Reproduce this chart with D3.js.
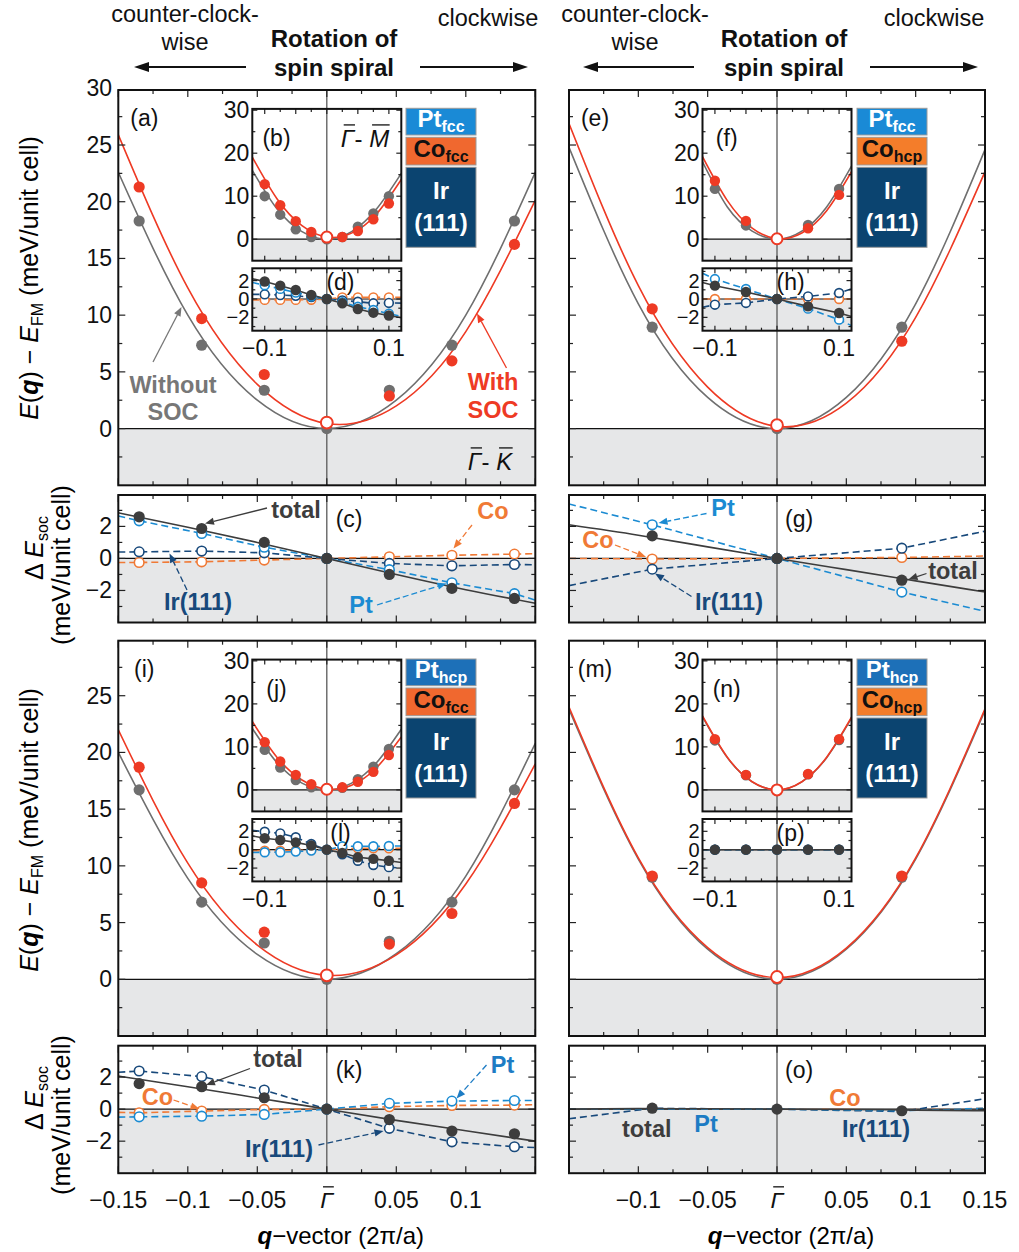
<!DOCTYPE html>
<html>
<head>
<meta charset="utf-8">
<script src="https://cdn.jsdelivr.net/npm/d3@7"></script>
<style>
  body { margin: 0; background: #fff; }
  svg { display: block; }
</style>
</head>
<body>
<script>
// q grids (2pi/a)
const qMain = [-0.135, -0.09, -0.045, 0, 0.045, 0.09, 0.135];
const qSparse = [-0.09, 0, 0.09];
const qFit = [-0.15, -0.1, -0.05, 0, 0.05, 0.1, 0.15];
const qInFine = [-0.1, -0.075, -0.05, -0.025, 0, 0.025, 0.05, 0.075, 0.1];
const qInSparse = [-0.1, -0.05, 0, 0.05, 0.1];
const qInFit = [-0.12, -0.08, -0.04, 0, 0.04, 0.08, 0.12];

// tick labels
const eLabelsTop = [0, 5, 10, 15, 20, 25, 30];
const eLabelsLow = [0, 5, 10, 15, 20, 25];
const dLabels = [-2, 0, 2];
const insetELabels = [0, 10, 20, 30];
const insetDLabels = [-2, 0, 2];
const insetQLabels = [-0.1, 0.1];
const qLabelsLeft = [-0.15, -0.1, -0.05, 0, 0.05, 0.1];
const qLabelsRight = [-0.1, -0.05, 0, 0.05, 0.1, 0.15];

// (a) Pt_fcc / Co_fcc, G-K
const aNoSoc = [18.3, 7.35, 3.38, 0, 3.38, 7.35, 18.3];
const aSoc = [21.3, 9.7, 4.77, 0.53, 2.88, 5.97, 16.24];
const aFitNoSoc = [22.6, 10.0, 2.5, 0, 2.5, 10.0, 22.6];
const aFitSoc = [25.9, 12.4, 3.9, 0.45, 2.0, 8.55, 20.15];
// (b) G-M inset
const bNoSoc = [10, 5.7, 2.3, 0.5, 0, 0.5, 2.9, 6.0, 10];
const bSoc = [12.8, 7.9, 4.2, 1.7, 0.5, 0.5, 1.9, 4.65, 8.3];
const bFitNoSoc = [16.0, 7.0, 1.76, 0, 1.76, 7.0, 15.3];
const bFitSoc = [19.1, 9.35, 3.15, 0.5, 1.41, 5.87, 13.9];
// (c) dE_soc
const cTotal = [2.6, 1.87, 1.0, 0, -1.0, -1.87, -2.5];
const cPt = [2.35, 1.56, 0.7, 0, -0.7, -1.52, -2.2];
const cCo = [-0.25, -0.21, -0.1, 0, 0.1, 0.2, 0.27];
const cIr = [0.41, 0.46, 0.35, 0, -0.31, -0.46, -0.38];
const cPtEnds = [2.65, -2.6], cCoEnds = [-0.25, 0.3], cIrEnds = [0.4, -0.4];
const cTotalFit = [2.85, 1.95, 1.0, 0, -1.0, -1.95, -2.8];
// (d)
const dTotal = [1.9, 1.45, 0.98, 0.43, 0, -0.47, -1.09, -1.49, -1.8];
const dPt = [1.5, 1.1, 0.7, 0.3, 0, -0.35, -0.85, -1.2, -1.6];
const dCo = [-0.1, -0.1, -0.1, -0.08, 0, 0.18, 0.18, 0.18, 0.18];
const dIr = [0.5, 0.43, 0.35, 0.2, 0, -0.15, -0.3, -0.47, -0.43];
const dTotalEnds = [2.2, -2.05], dPtEnds = [1.8, -1.9], dCoEnds = [-0.1, 0.18], dIrEnds = [0.5, -0.45];

// (e) Pt_fcc / Co_hcp
const eNoSoc = [8.94, 0, 8.94];
const eSoc = [10.56, 0.3, 7.7];
const eFitNoSoc = [24.8, 11.0, 2.75, 0, 2.75, 11.0, 24.6];
const eFitSoc = [26.9, 12.6, 3.66, 0.2, 2.24, 9.8, 22.65];
// (f)
const fNoSoc = [11.7, 3.2, 0, 3.3, 11.7];
const fSoc = [13.6, 4.25, 0.1, 2.55, 10.3];
const fFitNoSoc = [18.0, 7.5, 1.87, 0, 1.87, 7.5, 17.0];
const fFitSoc = [19.2, 8.98, 2.6, 0.1, 1.45, 6.64, 15.7];
// (g)
const gTotal = [1.41, 0, -1.36];
const gPt = [2.1, 0, -2.1];
const gCo = [-0.04, 0, 0.06];
const gIr = [-0.67, 0, 0.64];
const gPtEnds = [3.4, -3.3], gCoEnds = [0, 0.15], gIrEnds = [-1.7, 1.7];
const gTotalFit = [2.1, 1.45, 0.72, 0, -0.7, -1.4, -2.1];
// (h)
const hTotal = [1.45, 0.76, 0, -0.8, -1.52];
const hPt = [2.17, 1.09, 0, -1.05, -2.25];
const hCo = [0, 0, 0, 0, 0];
const hIr = [-0.62, -0.43, 0, 0.28, 0.65];
const hTotalEnds = [1.8, -1.9], hPtEnds = [2.8, -2.9], hCoEnds = [0, 0], hIrEnds = [-0.9, 1.1];

// (i) Pt_hcp / Co_fcc
const iNoSoc = [16.7, 6.8, 3.2, 0, 3.35, 6.8, 16.7];
const iSoc = [18.7, 8.5, 4.15, 0.35, 3.1, 5.8, 15.5];
const iFitNoSoc = [20.0, 8.9, 2.2, 0, 2.25, 9.1, 20.8];
const iFitSoc = [22.0, 10.24, 3.02, 0.35, 2.15, 8.4, 19.0];
// (j)
const jNoSoc = [9.3, 5.2, 2.3, 0.6, 0, 0.5, 2.5, 5.4, 9.5];
const jSoc = [11.1, 6.6, 3.5, 1.32, 0.15, 0.6, 1.9, 4.2, 8.1];
const jFitNoSoc = [14.3, 6.3, 1.58, 0, 1.58, 6.3, 14.1];
const jFitSoc = [15.9, 7.55, 2.3, 0.15, 1.1, 5.15, 12.3];
// (k)
const kTotal = [1.59, 1.4, 0.71, 0, -0.65, -1.37, -1.54];
const kPt = [-0.48, -0.44, -0.33, 0, 0.36, 0.5, 0.54];
const kCo = [-0.23, -0.12, -0.02, 0, 0.15, 0.23, 0.25];
const kIr = [2.38, 2.03, 1.19, 0, -1.2, -2.04, -2.35];
const kPtEnds = [-0.5, 0.54], kCoEnds = [-0.2, 0.28], kIrEnds = [2.3, -2.4];
const kTotalFit = [2.06, 1.4, 0.7, 0, -0.7, -1.35, -2.0];
// (l)
const lTotal = [1.24, 1.05, 0.8, 0.45, 0, -0.36, -0.83, -1.0, -1.2];
const lPt = [-0.28, -0.28, -0.2, -0.1, 0, 0.37, 0.37, 0.37, 0.4];
const lCo = [-0.1, -0.1, -0.08, -0.05, 0, 0.1, 0.15, 0.15, 0.15];
const lIr = [1.95, 1.78, 1.35, 0.62, 0, -0.5, -1.2, -1.66, -1.9];
const lTotalEnds = [1.5, -1.4], lPtEnds = [-0.3, 0.4], lCoEnds = [-0.1, 0.15], lIrEnds = [2.1, -2.0];

// (m) Pt_hcp / Co_hcp
const mNoSoc = [9.0, 0, 9.0];
const mSoc = [9.1, 0.2, 9.1];
const mFitNoSoc = [23.8, 10.6, 2.65, 0, 2.65, 10.6, 23.7];
const mFitSoc = [24.0, 10.7, 2.8, 0.15, 2.75, 10.7, 23.85];
// (n)
const nNoSoc = [11.5, 3.4, 0, 3.6, 11.6];
const nSoc = [11.8, 3.5, 0, 3.7, 11.8];
const nFitNoSoc = [17.0, 7.5, 1.88, 0, 1.88, 7.5, 16.7];
const nFitSoc = [17.2, 7.6, 1.9, 0, 1.9, 7.6, 16.9];
// (o)
const oTotal = [0.06, 0, -0.1];
const oPt = [0, 0, -0.1];
const oCo = [0, 0, -0.05];
const oIr = [0.05, 0, -0.15];
const oPtEnds = [0, 0.05], oCoEnds = [0, 0.05], oIrEnds = [-0.6, 0.65];
const oTotalFit = [0.0, 0.03, 0.02, 0, -0.02, -0.06, -0.1];
// (p)
const pTotal = [0, 0, 0, 0, 0];
const pPt = [0, 0, 0, 0, 0];
const pCo = [0, 0, 0, 0, 0];
const pIr = [0, 0, 0, 0, 0];
const pZeroEnds = [0, 0];

const C = {
  gray: '#6f6f6f', red: '#ee3a24', total: '#3d3d3d',
  pt: '#1b8bd2', co: '#f07a36', ir: '#18497b', shade: '#e6e7e8', axis: '#5a5a5a'
};
const FONT = '"Liberation Sans", Arial, sans-serif';
const fmt = d3.format('');
const TICK = 23, ANN = 23.5;

const svg = d3.select('body').append('svg')
  .attr('width', 1019).attr('height', 1252)
  .style('font-family', FONT);
const defs = svg.append('defs');
let clipCount = 0;

function clipFor(x, y) {
  const id = 'clip' + (clipCount++);
  defs.append('clipPath').attr('id', id).append('rect')
    .attr('x', x.range()[0]).attr('y', y.range()[1])
    .attr('width', x.range()[1] - x.range()[0])
    .attr('height', y.range()[0] - y.range()[1]);
  return `url(#${id})`;
}

const zip = (qs, vs) => qs.map((q, i) => [q, vs[i]]);
const lineGen = (x, y, curve) => d3.line().x(d => x(d[0])).y(d => y(d[1])).curve(curve);

const offs = [0, 550.7];
const cols = [
  {x: [118.3, 535.3], ix: [252.3, 401.3], lx: 406},
  {x: [569, 985], ix: [702.5, 851.5], lx: 857}
];
function geom(ci, ri) {
  const o = offs[ri], c = cols[ci];
  return {
    x: d3.scaleLinear().domain([-0.15, 0.15]).range(c.x),
    yE: d3.scaleLinear().domain([-5, 29.85]).range([485.3 + o, 90 + o]),
    yD: d3.scaleLinear().domain([-4, 3.96]).range([622.5 + o, 495 + o]),
    xi: d3.scaleLinear().domain([-0.12, 0.12]).range(c.ix),
    yEi: d3.scaleLinear().domain([-5, 30.3]).range([260.7 + o, 108.9 + o]),
    yDi: d3.scaleLinear().domain([-3.45, 3.34]).range([330.7 + o, 268.3 + o]),
    lx: c.lx, ly: 108.3 + o, o
  };
}

// background, shading below zero, zero line and centre line
function base(g, x, y) {
  const [x0, x1] = x.range(), [yb, yt] = y.range();
  g.append('rect').attr('x', x0).attr('y', yt).attr('width', x1 - x0).attr('height', yb - yt).attr('fill', '#fff');
  g.append('rect').attr('x', x0).attr('y', y(0)).attr('width', x1 - x0).attr('height', yb - y(0)).attr('fill', C.shade);
  g.append('line').attr('x1', x0).attr('x2', x1).attr('y1', y(0)).attr('y2', y(0)).attr('stroke', '#111').attr('stroke-width', 1.2);
  g.append('line').attr('x1', x(0)).attr('x2', x(0)).attr('y1', yt).attr('y2', yb).attr('stroke', C.axis).attr('stroke-width', 1.3);
}

function frame(g, x, y, xStep, yStep, xMaj, yMaj, lMaj, lMin) {
  const [x0, x1] = x.range(), [yb, yt] = y.range();
  const t = g.append('g').attr('stroke', '#222').attr('stroke-width', 1.2);
  const [qa, qb] = x.domain();
  for (let i = Math.ceil(qa / xStep - 1e-6); i <= Math.floor(qb / xStep + 1e-6); i++) {
    const len = (i % xMaj === 0) ? lMaj : lMin, px = x(i * xStep);
    t.append('line').attr('x1', px).attr('x2', px).attr('y1', yb).attr('y2', yb - len);
    t.append('line').attr('x1', px).attr('x2', px).attr('y1', yt).attr('y2', yt + len);
  }
  const [va, vb] = y.domain();
  for (let i = Math.ceil(va / yStep + 1e-6); i <= Math.floor(vb / yStep - 1e-6); i++) {
    const len = (i % yMaj === 0) ? lMaj : lMin, py = y(i * yStep);
    t.append('line').attr('x1', x0).attr('x2', x0 + len).attr('y1', py).attr('y2', py);
    t.append('line').attr('x1', x1).attr('x2', x1 - len).attr('y1', py).attr('y2', py);
  }
  g.append('rect').attr('x', x0).attr('y', yt).attr('width', x1 - x0).attr('height', yb - yt)
    .attr('fill', 'none').attr('stroke', '#111').attr('stroke-width', 2);
}

function drawE(g, x, y, s, r) {
  const inner = g.append('g').attr('clip-path', clipFor(x, y));
  base(inner, x, y);
  inner.append('path').datum(zip(s.qFit, s.fitNoSoc)).attr('d', lineGen(x, y, d3.curveNatural))
    .attr('fill', 'none').attr('stroke', C.gray).attr('stroke-width', 1.6);
  inner.append('path').datum(zip(s.qFit, s.fitSoc)).attr('d', lineGen(x, y, d3.curveNatural))
    .attr('fill', 'none').attr('stroke', C.red).attr('stroke-width', 1.6);
  inner.selectAll('.gm').data(zip(s.q, s.noSoc)).join('circle')
    .attr('cx', d => x(d[0])).attr('cy', d => y(d[1])).attr('r', r).attr('fill', C.gray);
  inner.selectAll('.rm').data(zip(s.q, s.soc)).join('circle')
    .attr('cx', d => x(d[0])).attr('cy', d => y(d[1]))
    .attr('r', d => d[0] === 0 ? r + 0.3 : r)
    .attr('fill', d => d[0] === 0 ? '#fff' : C.red)
    .attr('stroke', C.red).attr('stroke-width', d => d[0] === 0 ? 2 : 0);
}

function drawD(g, x, y, s, r) {
  const inner = g.append('g').attr('clip-path', clipFor(x, y));
  base(inner, x, y);
  const [qa, qb] = x.domain();
  const comps = [
    {v: s.co, ends: s.coEnds, c: C.co},
    {v: s.ir, ends: s.irEnds, c: C.ir},
    {v: s.pt, ends: s.ptEnds, c: C.pt}
  ];
  const lin = lineGen(x, y, d3.curveLinear);
  comps.forEach(cp => {
    inner.append('path').datum([[qa, cp.ends[0]], ...zip(s.q, cp.v), [qb, cp.ends[1]]])
      .attr('d', lin).attr('fill', 'none').attr('stroke', cp.c)
      .attr('stroke-width', 1.6).attr('stroke-dasharray', '7,4');
  });
  const totalPts = s.totalFit ? zip(s.qFit, s.totalFit)
    : [[qa, s.totalEnds[0]], ...zip(s.q, s.total), [qb, s.totalEnds[1]]];
  inner.append('path').datum(totalPts)
    .attr('d', lineGen(x, y, s.totalFit ? d3.curveNatural : d3.curveLinear))
    .attr('fill', 'none').attr('stroke', C.total).attr('stroke-width', 1.6);
  if (s.compMarkers !== false) {
    comps.forEach(cp => {
      inner.append('g').selectAll('circle').data(zip(s.q, cp.v)).join('circle')
        .attr('cx', d => x(d[0])).attr('cy', d => y(d[1])).attr('r', r - 0.8)
        .attr('fill', '#fff').attr('stroke', cp.c).attr('stroke-width', 1.6);
    });
  }
  inner.append('g').selectAll('circle').data(zip(s.q, s.total)).join('circle')
    .attr('cx', d => x(d[0])).attr('cy', d => y(d[1])).attr('r', r).attr('fill', C.total);
}

function label(g, x, y, str, opt = {}) {
  return g.append('text').attr('x', x).attr('y', y)
    .attr('text-anchor', opt.anchor || 'middle')
    .attr('font-size', opt.size || TICK)
    .attr('font-weight', opt.bold ? 'bold' : null)
    .attr('font-style', opt.italic ? 'italic' : null)
    .attr('fill', opt.color || '#111')
    .text(str);
}

// italic symbols with overbars, e.g. Γ̄- K̄
function barred(g, x, y, parts, size, anchor) {
  const t = g.append('text').attr('x', x).attr('y', y).attr('font-size', size)
    .attr('text-anchor', anchor || 'middle').attr('fill', '#111');
  parts.forEach(p => t.append('tspan').attr('font-style', p.italic ? 'italic' : null).text(p.t));
  let idx = 0;
  parts.forEach(p => {
    if (p.bar) {
      const e = t.node().getExtentOfChar(idx);
      g.append('line').attr('x1', e.x + size * 0.12).attr('x2', e.x + e.width + size * 0.02)
        .attr('y1', y - size * 0.92).attr('y2', y - size * 0.92)
        .attr('stroke', '#111').attr('stroke-width', 1.3);
    }
    idx += p.t.length;
  });
}

function arrow(g, x1, y1, x2, y2, color, dashed, head = 9, hw = 3.6, sw = 1.3) {
  const a = Math.atan2(y2 - y1, x2 - x1);
  const bx = x2 - head * Math.cos(a), by = y2 - head * Math.sin(a);
  g.append('line').attr('x1', x1).attr('y1', y1).attr('x2', bx).attr('y2', by)
    .attr('stroke', color).attr('stroke-width', sw).attr('stroke-dasharray', dashed ? '6,3' : null);
  const px = -Math.sin(a) * hw, py = Math.cos(a) * hw;
  g.append('path').attr('d', `M${x2},${y2}L${bx + px},${by + py}L${bx - px},${by - py}Z`).attr('fill', color);
}

function legend(g, x0, y0, ptSub, coSub, ptFill, coFill) {
  const w = 70;
  const boxes = [[y0, 26.7, ptFill], [y0 + 29, 27.7, coFill], [y0 + 59, 80, '#0b4470']];
  boxes.forEach(b => g.append('rect').attr('x', x0).attr('y', b[0]).attr('width', w).attr('height', b[1])
    .attr('fill', b[2]).attr('stroke', '#9a9a9a').attr('stroke-width', 1));
  const t1 = g.append('text').attr('x', x0 + w / 2).attr('y', y0 + 19).attr('text-anchor', 'middle')
    .attr('font-weight', 'bold').attr('font-size', 24).attr('fill', '#fff');
  t1.append('tspan').text('Pt');
  t1.append('tspan').attr('font-size', 16).attr('dy', 5).text(ptSub);
  const t2 = g.append('text').attr('x', x0 + w / 2).attr('y', y0 + 48.6).attr('text-anchor', 'middle')
    .attr('font-weight', 'bold').attr('font-size', 24).attr('fill', '#111');
  t2.append('tspan').text('Co');
  t2.append('tspan').attr('font-size', 16).attr('dy', 5).text(coSub);
  label(g, x0 + w / 2, y0 + 91, 'Ir', {bold: true, color: '#fff', size: 24});
  label(g, x0 + w / 2, y0 + 122.5, '(111)', {bold: true, color: '#fff', size: 24});
}

const panels = [
  {ci: 0, ri: 0, tags: ['(a)', '(b)', '(c)', '(d)'], pt: ['fcc', '#1a8ad6'], co: ['fcc', '#f0682f'],
   E: {q: qMain, noSoc: aNoSoc, soc: aSoc, qFit, fitNoSoc: aFitNoSoc, fitSoc: aFitSoc},
   Ei: {q: qInFine, noSoc: bNoSoc, soc: bSoc, qFit: qInFit, fitNoSoc: bFitNoSoc, fitSoc: bFitSoc},
   D: {q: qMain, total: cTotal, pt: cPt, co: cCo, ir: cIr, ptEnds: cPtEnds, coEnds: cCoEnds, irEnds: cIrEnds, qFit, totalFit: cTotalFit},
   Di: {q: qInFine, total: dTotal, pt: dPt, co: dCo, ir: dIr, totalEnds: dTotalEnds, ptEnds: dPtEnds, coEnds: dCoEnds, irEnds: dIrEnds}},
  {ci: 1, ri: 0, tags: ['(e)', '(f)', '(g)', '(h)'], pt: ['fcc', '#1a8ad6'], co: ['hcp', '#f47d2a'],
   E: {q: qSparse, noSoc: eNoSoc, soc: eSoc, qFit, fitNoSoc: eFitNoSoc, fitSoc: eFitSoc},
   Ei: {q: qInSparse, noSoc: fNoSoc, soc: fSoc, qFit: qInFit, fitNoSoc: fFitNoSoc, fitSoc: fFitSoc},
   D: {q: qSparse, total: gTotal, pt: gPt, co: gCo, ir: gIr, ptEnds: gPtEnds, coEnds: gCoEnds, irEnds: gIrEnds, qFit, totalFit: gTotalFit},
   Di: {q: qInSparse, total: hTotal, pt: hPt, co: hCo, ir: hIr, totalEnds: hTotalEnds, ptEnds: hPtEnds, coEnds: hCoEnds, irEnds: hIrEnds}},
  {ci: 0, ri: 1, tags: ['(i)', '(j)', '(k)', '(l)'], pt: ['hcp', '#1d70b8'], co: ['fcc', '#f0682f'],
   E: {q: qMain, noSoc: iNoSoc, soc: iSoc, qFit, fitNoSoc: iFitNoSoc, fitSoc: iFitSoc},
   Ei: {q: qInFine, noSoc: jNoSoc, soc: jSoc, qFit: qInFit, fitNoSoc: jFitNoSoc, fitSoc: jFitSoc},
   D: {q: qMain, total: kTotal, pt: kPt, co: kCo, ir: kIr, ptEnds: kPtEnds, coEnds: kCoEnds, irEnds: kIrEnds, qFit, totalFit: kTotalFit},
   Di: {q: qInFine, total: lTotal, pt: lPt, co: lCo, ir: lIr, totalEnds: lTotalEnds, ptEnds: lPtEnds, coEnds: lCoEnds, irEnds: lIrEnds}},
  {ci: 1, ri: 1, tags: ['(m)', '(n)', '(o)', '(p)'], pt: ['hcp', '#1d70b8'], co: ['hcp', '#f47d2a'],
   E: {q: qSparse, noSoc: mNoSoc, soc: mSoc, qFit, fitNoSoc: mFitNoSoc, fitSoc: mFitSoc},
   Ei: {q: qInSparse, noSoc: nNoSoc, soc: nSoc, qFit: qInFit, fitNoSoc: nFitNoSoc, fitSoc: nFitSoc},
   D: {q: qSparse, total: oTotal, pt: oPt, co: oCo, ir: oIr, ptEnds: oPtEnds, coEnds: oCoEnds, irEnds: oIrEnds, qFit, totalFit: oTotalFit, compMarkers: false},
   Di: {q: qInSparse, total: pTotal, pt: pPt, co: pCo, ir: pIr, totalEnds: pZeroEnds, ptEnds: pZeroEnds, coEnds: pZeroEnds, irEnds: pZeroEnds}}
];

panels.forEach(p => {
  const G = geom(p.ci, p.ri);
  const g = svg.append('g');
  const o = G.o;
  // main energy panel
  drawE(g, G.x, G.yE, p.E, 5.6);
  frame(g, G.x, G.yE, 0.025, 2.5, 2, 2, 7, 4);
  // inset energy
  drawE(g, G.xi, G.yEi, p.Ei, 5.2);
  frame(g, G.xi, G.yEi, 0.025, 5, 2, 2, 5, 3);
  // inset dE
  drawD(g, G.xi, G.yDi, p.Di, 5.2);
  frame(g, G.xi, G.yDi, 0.025, 1, 2, 2, 5, 3);
  // main dE
  drawD(g, G.x, G.yD, p.D, 5.6);
  frame(g, G.x, G.yD, 0.025, 1, 2, 2, 7, 4);

  legend(g, G.lx, G.ly, p.pt[0], p.co[0], p.pt[1], p.co[1]);

  // inset tick labels
  const xi0 = G.xi.range()[0];
  insetELabels.forEach(v => label(g, xi0 - 3, G.yEi(v) + 8, fmt(v), {anchor: 'end'}));
  insetDLabels.forEach(v => label(g, xi0 - 3, G.yDi(v) + 7, fmt(v), {anchor: 'end', size: 20}));
  insetQLabels.forEach(v => label(g, G.xi(v), 356 + o, fmt(v)));

  // panel tags
  const cx = G.x.range()[0];
  label(g, cx + 26, 126 + o, p.tags[0], {size: 23});
  label(g, G.xi(-0.081), 146 + o, p.tags[1], {size: 23});
  label(g, G.x(0.016), 527 + o, p.tags[2], {size: 23});
  label(g, G.xi(0.022), 290 + o, p.tags[3], {size: 23});

  if (p.ci === 0) {
    (p.ri === 0 ? eLabelsTop : eLabelsLow).forEach(v => label(g, 112, G.yE(v) + 8, fmt(v), {anchor: 'end'}));
    dLabels.forEach(v => label(g, 112, G.yD(v) + 8, fmt(v), {anchor: 'end'}));
  }
  if (p.ri === 1) {
    (p.ci === 0 ? qLabelsLeft : qLabelsRight).forEach(v => {
      if (v === 0) {
        barred(g, G.x(0), 1208, [{t: 'Γ', italic: true, bar: true}], TICK);
      } else {
        label(g, G.x(v), 1208, fmt(v));
      }
    });
    const tt = g.append('text').attr('x', G.x(0) + 14).attr('y', 1244).attr('text-anchor', 'middle').attr('font-size', 24);
    tt.append('tspan').attr('font-weight', 'bold').attr('font-style', 'italic').text('q');
    tt.append('tspan').text('−vector (2π/a)');
  }
});

// direction labels
barred(svg, 490, 470, [{t: 'Γ', italic: true, bar: true}, {t: '- '}, {t: 'K', italic: true, bar: true}], 24);
barred(svg, 365, 147, [{t: 'Γ', italic: true, bar: true}, {t: '- '}, {t: 'M', italic: true, bar: true}], 24);

// header
[[0, 185, 334, 488, 246, 134, 420, 528], [1, 635, 784, 934, 694, 583, 870, 978]].forEach(h => {
  label(svg, h[1], 22, 'counter-clock-', {size: 23.5});
  label(svg, h[1], 50, 'wise', {size: 23.5});
  label(svg, h[2], 47, 'Rotation of', {size: 24, bold: true});
  label(svg, h[2], 76, 'spin spiral', {size: 24, bold: true});
  label(svg, h[3], 26, 'clockwise', {size: 23.5});
  arrow(svg, h[4], 67, h[5], 67, '#111', false, 15, 5, 2);
  arrow(svg, h[6], 67, h[7], 67, '#111', false, 15, 5, 2);
});

// y axis titles
function eTitle(cy) {
  const t = svg.append('text').attr('transform', `translate(38,${cy}) rotate(-90)`)
    .attr('text-anchor', 'middle').attr('font-size', 25);
  t.append('tspan').attr('font-style', 'italic').text('E');
  t.append('tspan').text('(');
  t.append('tspan').attr('font-style', 'italic').attr('font-weight', 'bold').text('q');
  t.append('tspan').text(') − ');
  t.append('tspan').attr('font-style', 'italic').text('E');
  t.append('tspan').attr('font-size', 16).attr('dy', 5).text('FM');
  t.append('tspan').attr('dy', -5).text(' (meV/unit cell)');
}
function dTitle(cy1, cy2) {
  const t = svg.append('text').attr('transform', `translate(43,${cy1}) rotate(-90)`)
    .attr('text-anchor', 'middle').attr('font-size', 25);
  t.append('tspan').text('Δ ');
  t.append('tspan').attr('font-style', 'italic').text('E');
  t.append('tspan').attr('font-size', 16).attr('dy', 5).text('soc');
  svg.append('text').attr('transform', `translate(70,${cy2}) rotate(-90)`)
    .attr('text-anchor', 'middle').attr('font-size', 25).text('(meV/unit cell)');
}
eTitle(278);
eTitle(830);
dTitle(548, 565);
dTitle(1098, 1115);

// annotations
const ann = svg.append('g');
const A = {bold: true, size: ANN};
label(ann, 173, 393, 'Without', {...A, color: '#777'});
label(ann, 173, 420, 'SOC', {...A, color: '#777'});
arrow(ann, 153, 362, 181.5, 307, '#777', false);
label(ann, 493, 390, 'With', {...A, color: C.red});
label(ann, 493, 418, 'SOC', {...A, color: C.red});
arrow(ann, 506.5, 368, 477, 313.5, C.red, false);

label(ann, 296, 518, 'total', {...A, color: C.total});
arrow(ann, 267, 508, 205, 523.5, C.total, false);
label(ann, 493, 519, 'Co', {...A, color: C.co});
arrow(ann, 472, 525, 453.5, 548.5, C.co, true);
label(ann, 198, 610, 'Ir(111)', {...A, color: C.ir});
arrow(ann, 187, 590, 169.5, 553.5, C.ir, true);
label(ann, 361, 613, 'Pt', {...A, color: C.pt});
arrow(ann, 377, 605, 446.5, 583.5, C.pt, true);

label(ann, 723, 516, 'Pt', {...A, color: C.pt});
arrow(ann, 706.5, 513.5, 658.5, 523, C.pt, true);
label(ann, 598, 548, 'Co', {...A, color: C.co});
arrow(ann, 615, 545, 646, 557, C.co, true);
label(ann, 729, 610, 'Ir(111)', {...A, color: C.ir});
arrow(ann, 691.5, 596.5, 655, 573.5, C.ir, true);
label(ann, 953, 579, 'total', {...A, color: C.total});
arrow(ann, 926.5, 573.5, 908.5, 579.3, C.total, false);

label(ann, 278, 1067, 'total', {...A, color: C.total});
arrow(ann, 250, 1068.5, 206, 1085, C.total, false);
label(ann, 157.5, 1105, 'Co', {...A, color: C.co});
arrow(ann, 173.5, 1100, 199.5, 1109, C.co, true);
label(ann, 502.5, 1073, 'Pt', {...A, color: '#1d7cc4'});
arrow(ann, 486.5, 1065, 456.5, 1098.5, '#1d7cc4', true);
label(ann, 279, 1157, 'Ir(111)', {...A, color: C.ir});
arrow(ann, 318.5, 1145, 383.5, 1131, C.ir, true);

label(ann, 646.7, 1137, 'total', {...A, color: C.total});
label(ann, 706, 1132, 'Pt', {...A, color: '#1d7cc4'});
label(ann, 845, 1106, 'Co', {...A, color: C.co});
label(ann, 876, 1137, 'Ir(111)', {...A, color: C.ir});
</script>
</body>
</html>
